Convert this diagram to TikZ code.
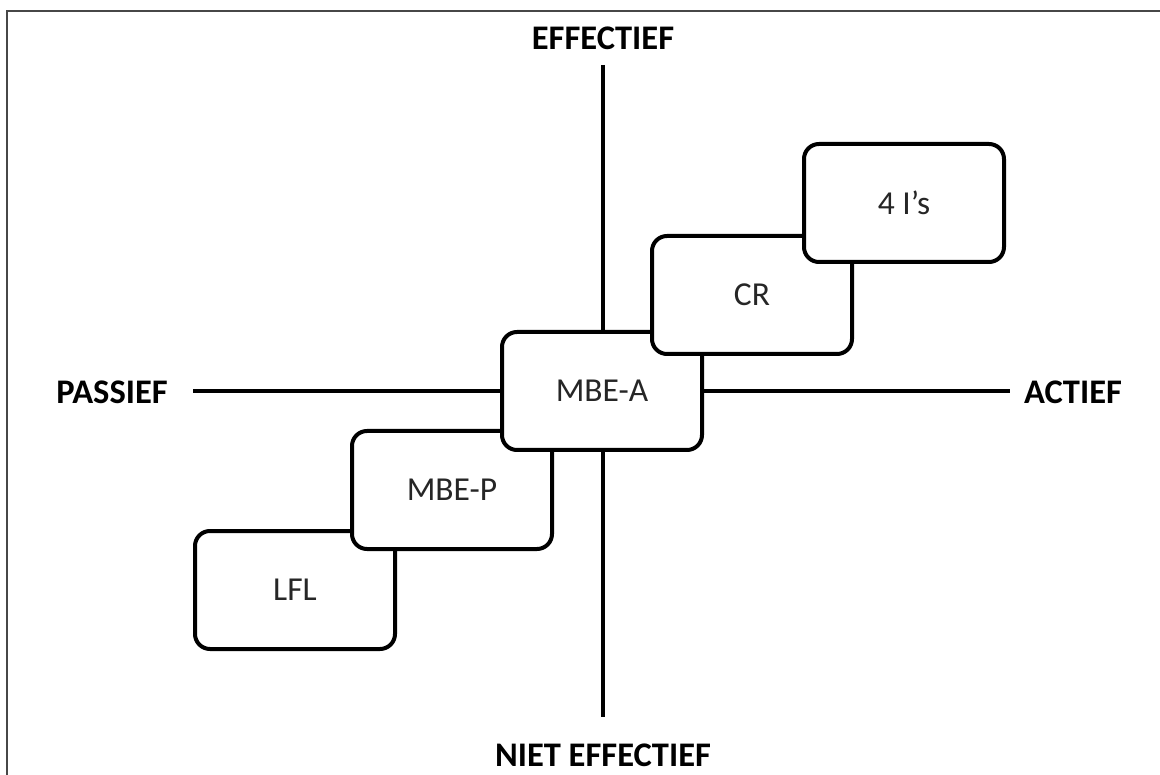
\documentclass[tikz,border=0pt]{standalone}
\usepackage{fontspec}
\setmainfont{Carlito}
\begin{document}
\begin{tikzpicture}[x=1pt,y=-1pt,
  stagebox/.style={draw=black, line width=4pt, fill=white, rounded corners=15pt,
    minimum width=200pt, minimum height=118pt, inner sep=0pt,
    text=black!85, font=\fontsize{33.5}{40}\selectfont},
  axislabel/.style={inner sep=0pt, font=\fontsize{34.5}{41}\selectfont\bfseries},
  axisline/.style={line width=4pt, black},
  frameline/.style={line width=2.5pt, black!72}]
\useasboundingbox (0,0) rectangle (1160,775);
% frame (only left and top visible)
\coordinate (fbl) at (7,776);
\coordinate (ftl) at (7,11);
\coordinate (ftr) at (1161,11);
\draw[frameline] (fbl) -- (ftl) -- (ftr);
% axis labels
\node[axislabel] (eff) at (603,38) {EFFECTIEF};
\node[axislabel] (neff) at (603,755) {NIET EFFECTIEF};
\node[axislabel] (pas) at (112,392) {PASSIEF};
\node[axislabel] (act) at (1073,392) {ACTIEF};
% axes
\coordinate (vtop) at (603,65);
\coordinate (vbot) at (603,717);
\coordinate (hleft) at (193,391);
\coordinate (hright) at (1010,391);
\draw[axisline] (vtop) -- (vbot);
\draw[axisline] (hleft) -- (hright);
% boxes (drawn bottom-left to top-right, each over the previous)
\node[stagebox] (lfl) at (295,590) {LFL};
\node[stagebox] (mbep) at (452,490) {MBE-P};
\node[stagebox] (mbea) at (602,391) {MBE-A};
\node[stagebox] (cr) at (752,295) {CR};
\node[stagebox] (fouri) at (904,203) {4 I’s};
\end{tikzpicture}
\end{document}
